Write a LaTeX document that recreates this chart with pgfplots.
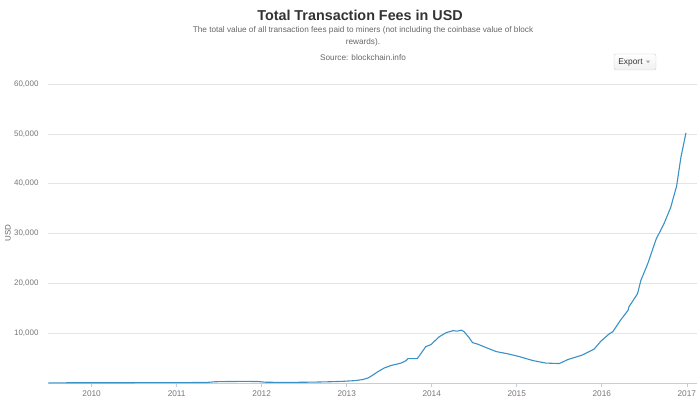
\documentclass[border=0pt]{standalone}
\usepackage{pgfplots}
\pgfplotsset{compat=1.18}
\usepackage{fontspec}
\setmainfont{Liberation Sans}
\definecolor{titlec}{HTML}{333333}
\definecolor{subc}{HTML}{666666}
\definecolor{labc}{HTML}{777777}
\definecolor{gridc}{HTML}{E4E4E4}
\definecolor{axisc}{HTML}{C0D0E0}
\definecolor{linec}{HTML}{3A91C6}
\begin{document}
\begin{tikzpicture}
\path[use as bounding box] (0,0) rectangle (700bp,397bp);
\begin{axis}[
  at={(48bp,14bp)}, anchor=south west, scale only axis,
  width=649bp, height=299bp,
  xmin=2009.487, xmax=2017.12, ymin=0, ymax=60000,
  axis line style={draw=none},
  xtick={2010,2011,2012,2013,2014,2015,2016,2017},
  ytick={10000,20000,30000,40000,50000,60000},
  xtick pos=bottom, ytick pos=left,
  tick align=outside,
  major tick length=4bp,
  xtick style={color=axisc, line width=0.6bp},
  ytick style={draw=none},
  ymajorgrids, grid style={color=gridc, line width=0.6bp},
  scaled y ticks=false,
  /pgf/number format/assume math mode=true,
  xticklabel style={/pgf/number format/1000 sep={}, font=\fontsize{8.3}{9}\selectfont, text=labc},
  yticklabel style={/pgf/number format/fixed, /pgf/number format/1000 sep={,}, font=\fontsize{8}{9}\selectfont, text=labc, xshift=-2bp},
  clip=false,
]
\draw[axisc, line width=0.7bp] (rel axis cs:0,0) -- (rel axis cs:1,0);
\addplot[color=linec, line width=1.1bp] coordinates {
(2009.49,30) (2009.7,40) (2010.0,50) (2010.5,60) (2011.0,80) (2011.35,100)
(2011.45,250) (2011.6,300) (2011.8,320) (2011.95,300) (2012.05,150)
(2012.3,120) (2012.5,150) (2012.65,190) (2012.80,250) (2012.95,330)
(2013.10,480) (2013.19,700) (2013.25,1000) (2013.30,1500) (2013.37,2300)
(2013.44,3000) (2013.52,3500) (2013.64,4000) (2013.70,4500) (2013.72,4900)
(2013.83,4900) (2013.86,5600) (2013.93,7300) (2013.99,7700) (2014.09,9300)
(2014.17,10100) (2014.25,10500) (2014.30,10400) (2014.35,10600) (2014.38,10300)
(2014.44,9100) (2014.48,8100) (2014.54,7800) (2014.64,7100) (2014.76,6300)
(2014.91,5800) (2015.03,5300) (2015.19,4500) (2015.34,4000) (2015.50,3900)
(2015.60,4700) (2015.77,5600) (2015.91,6800) (2015.99,8400) (2016.09,9900)
(2016.13,10300) (2016.22,12600) (2016.31,14600) (2016.32,15300) (2016.42,17900)
(2016.46,20600) (2016.54,23900) (2016.64,28900) (2016.73,31900) (2016.81,35200)
(2016.87,38900) (2016.88,39500) (2016.93,45200) (2016.99,50200)
};
\end{axis}
\node[font=\fontsize{14.4}{16}\selectfont\bfseries, text=titlec] at (360bp,382bp) {Total Transaction Fees in USD};
\node[font=\fontsize{8.25}{12}\selectfont, text=subc, align=center] at (363bp,361bp) {The total value of all transaction fees paid to miners (not including the coinbase value of block\\rewards).};
\node[font=\fontsize{8.25}{9}\selectfont, text=subc] at (363bp,339bp) {Source: blockchain.info};
\node[draw=gray!40, rounded corners=2bp, top color=white, bottom color=gray!12, minimum width=42bp, minimum height=16bp] at (635bp,335bp) {};
\node[font=\fontsize{8.4}{9}\selectfont, text=titlec] at (630.5bp,335bp) {Export};
\fill[gray!70] (646bp,336.3bp) -- (650bp,336.3bp) -- (648bp,333.8bp) -- cycle;
\node[rotate=90, font=\fontsize{8}{9}\selectfont, text=subc] at (8bp,164bp) {USD};
\end{tikzpicture}
\end{document}
